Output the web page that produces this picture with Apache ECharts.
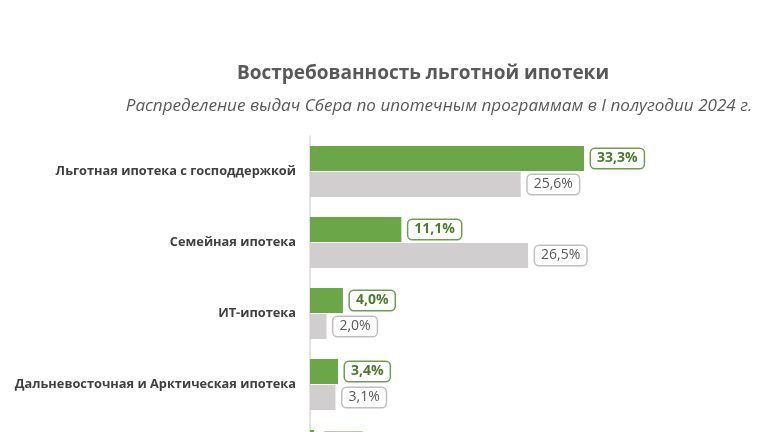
<!DOCTYPE html>
<html><head><meta charset="utf-8">
<script src="https://cdn.jsdelivr.net/npm/echarts@6/dist/echarts.min.js"></script>
<style>html,body{margin:0;padding:0;overflow:hidden;background:#fff;width:768px;height:432px}#c{width:768px;height:520px}</style>
</head><body><div id="c"></div>
<script>
const categories = ['Льготная ипотека с господдержкой','Семейная ипотека','ИТ-ипотека','Дальневосточная и Арктическая ипотека','Прочие программы'];
const sberValues = [33.3, 11.1, 4.0, 3.4, 0.5];
const marketValues = [25.6, 26.5, 2.0, 3.1, 0.5];
const titleText = 'Востребованность льготной ипотеки';
const subtitleText = 'Распределение выдач Сбера по ипотечным программам в I полугодии 2024 г.';

const fmt = p => p.value.toFixed(1).replace('.', ',') + '%';
const chart = echarts.init(document.getElementById('c'), null, {renderer:'canvas'});
chart.setOption({
  animation:false,
  title:[
    {text:titleText,left:418,top:59,textAlign:'center',textStyle:{fontFamily:'Open Sans',fontWeight:'bold',fontSize:19,color:'#595959'}},
    {text:subtitleText,left:434,top:93,textAlign:'center',textStyle:{fontFamily:'Open Sans',fontStyle:'italic',fontWeight:'normal',fontSize:17.1,color:'#595959'}}
  ],
  grid:{left:310,top:136,width:411.5,height:355,containLabel:false},
  xAxis:{type:'value',min:0,max:50,show:false},
  yAxis:{type:'category',data:categories,inverse:true,
    axisLine:{show:true,lineStyle:{color:'#d9d9d9',width:1.5}},axisTick:{show:false},
    axisLabel:{margin:14,fontFamily:'Open Sans',fontWeight:'bold',fontSize:12.8,color:'#404040'}},
  series:[
    {name:'Сбер',type:'bar',data:sberValues,barWidth:25,barGap:'4%',
     itemStyle:{color:'#6ba648'},
     label:{show:true,position:'right',distance:7,formatter:fmt,fontFamily:'Open Sans',fontWeight:'bold',fontSize:14,color:'#4e7a30',
       borderColor:'#6e9e4e',borderWidth:1.5,borderRadius:4,padding:[3,6,2,6],backgroundColor:'#fff'}},
    {name:'Рынок',type:'bar',data:marketValues,barWidth:25,
     itemStyle:{color:'#d0cece'},
     label:{show:true,position:'right',distance:7,formatter:fmt,fontFamily:'Open Sans',fontWeight:'normal',fontSize:14,color:'#595959',
       borderColor:'#bfbfbf',borderWidth:1.5,borderRadius:4,padding:[3,6,2,6],backgroundColor:'#fff'}}
  ]
});
</script></body></html>
